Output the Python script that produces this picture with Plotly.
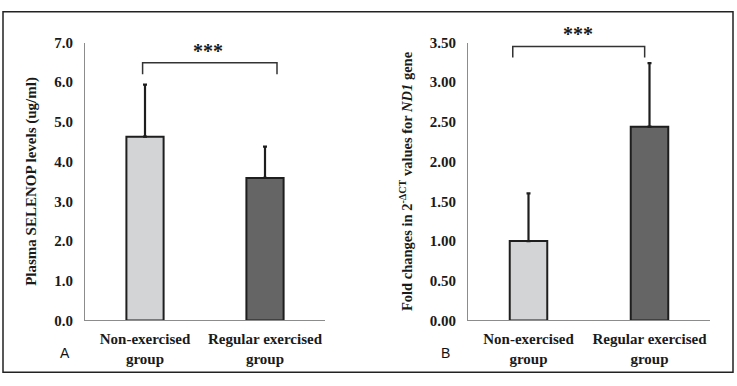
import plotly.graph_objects as go

W, H = 737, 386

groups = ["Non-exercised<br>group", "Regular exercised<br>group"]
selenop_mean = [4.63, 3.59]
selenop_sd = [1.31, 0.79]
nd1_mean = [1.00, 2.44]
nd1_sd = [0.60, 0.80]
bar_colors = ["#d3d4d6", "#656565"]

serif = "Liberation Serif"

def px_x(p):
    return p / W

def px_y(p):
    return (H - p) / H

fig = go.Figure()

fig.add_trace(go.Bar(
    x=[0, 1], y=selenop_mean, width=0.31,
    marker=dict(color=bar_colors, line=dict(color="#1e1e1e", width=2)),
    error_y=dict(type="data", symmetric=False, array=selenop_sd, arrayminus=[0, 0],
                 color="#1e1e1e", thickness=2.2, width=2),
    xaxis="x", yaxis="y", showlegend=False,
))
fig.add_trace(go.Bar(
    x=[0, 1], y=nd1_mean, width=0.31,
    marker=dict(color=bar_colors, line=dict(color="#1e1e1e", width=2)),
    error_y=dict(type="data", symmetric=False, array=nd1_sd, arrayminus=[0, 0],
                 color="#1e1e1e", thickness=2.2, width=2),
    xaxis="x2", yaxis="y2", showlegend=False,
))

tickfont = dict(family=serif, size=15, color="#1a1a1a", weight="bold")
ydom = [px_y(326), px_y(36)]

common_x = dict(range=[-0.5, 1.5], tickvals=[0, 1], ticktext=groups,
                showline=True, linecolor="#8c8c8c", linewidth=1, showgrid=False,
                zeroline=False, ticks="", tickfont=tickfont, fixedrange=True,
                ticklabelstandoff=5)
fig.update_layout(
    width=W, height=H,
    margin=dict(l=0, r=0, t=0, b=0),
    paper_bgcolor="white", plot_bgcolor="white",
    xaxis=dict(domain=[px_x(85), px_x(325)], anchor="y", **common_x),
    xaxis2=dict(domain=[px_x(468), px_x(710)], anchor="y2", **common_x),
    yaxis=dict(domain=ydom, anchor="x", range=[0, 7], dtick=1, tickformat=".1f",
               showline=True, linecolor="#8c8c8c", linewidth=1, showgrid=False,
               zeroline=False, tickfont=tickfont, ticklabelstandoff=8,
               title=dict(text="Plasma SELENOP levels (ug/ml)", standoff=13,
                          font=dict(family=serif, size=15, color="#1a1a1a", weight="bold"))),
    yaxis2=dict(domain=ydom, anchor="x2", range=[0, 3.5], dtick=0.5, tickformat=".2f",
                showline=True, linecolor="#8c8c8c", linewidth=1, showgrid=False,
                zeroline=False, tickfont=tickfont, ticklabelstandoff=8,
                title=dict(text="Fold changes in 2<sup>-ΔCT</sup> values for <i>ND1</i> gene",
                           standoff=13,
                           font=dict(family=serif, size=14.5, color="#1a1a1a", weight="bold"))),
)

# significance brackets
fig.add_shape(type="path", path="M -0.02,6.2 L -0.02,6.49 L 1.1,6.49 L 1.1,6.2",
              xref="x", yref="y", line=dict(color="#333333", width=1.5))
fig.add_shape(type="path", path="M -0.13,3.31 L -0.13,3.45 L 0.96,3.45 L 0.96,3.31",
              xref="x2", yref="y2", line=dict(color="#333333", width=1.5))
for xp, yp in [(208, 45), (578, 27)]:
    fig.add_annotation(x=px_x(xp), y=px_y(yp), xref="paper", yref="paper", text="***",
                       showarrow=False, xanchor="center", yanchor="middle",
                       font=dict(family=serif, size=20, color="#1a1a1a", weight="bold"))

# panel letters
for letter, xp in [("A", 65), ("B", 445)]:
    fig.add_annotation(x=px_x(xp), y=px_y(360), xref="paper", yref="paper", text=letter,
                       showarrow=False, xanchor="center", yanchor="middle",
                       font=dict(family="Liberation Sans", size=14, color="#111111"))

# outer border
fig.add_shape(type="rect", xref="paper", yref="paper",
              x0=px_x(3), x1=px_x(733), y0=px_y(380), y1=px_y(4),
              line=dict(color="#222222", width=1.5))

fig.write_html("out.html", config={"displayModeBar": False},
               post_script="document.body.style.margin='0';")
